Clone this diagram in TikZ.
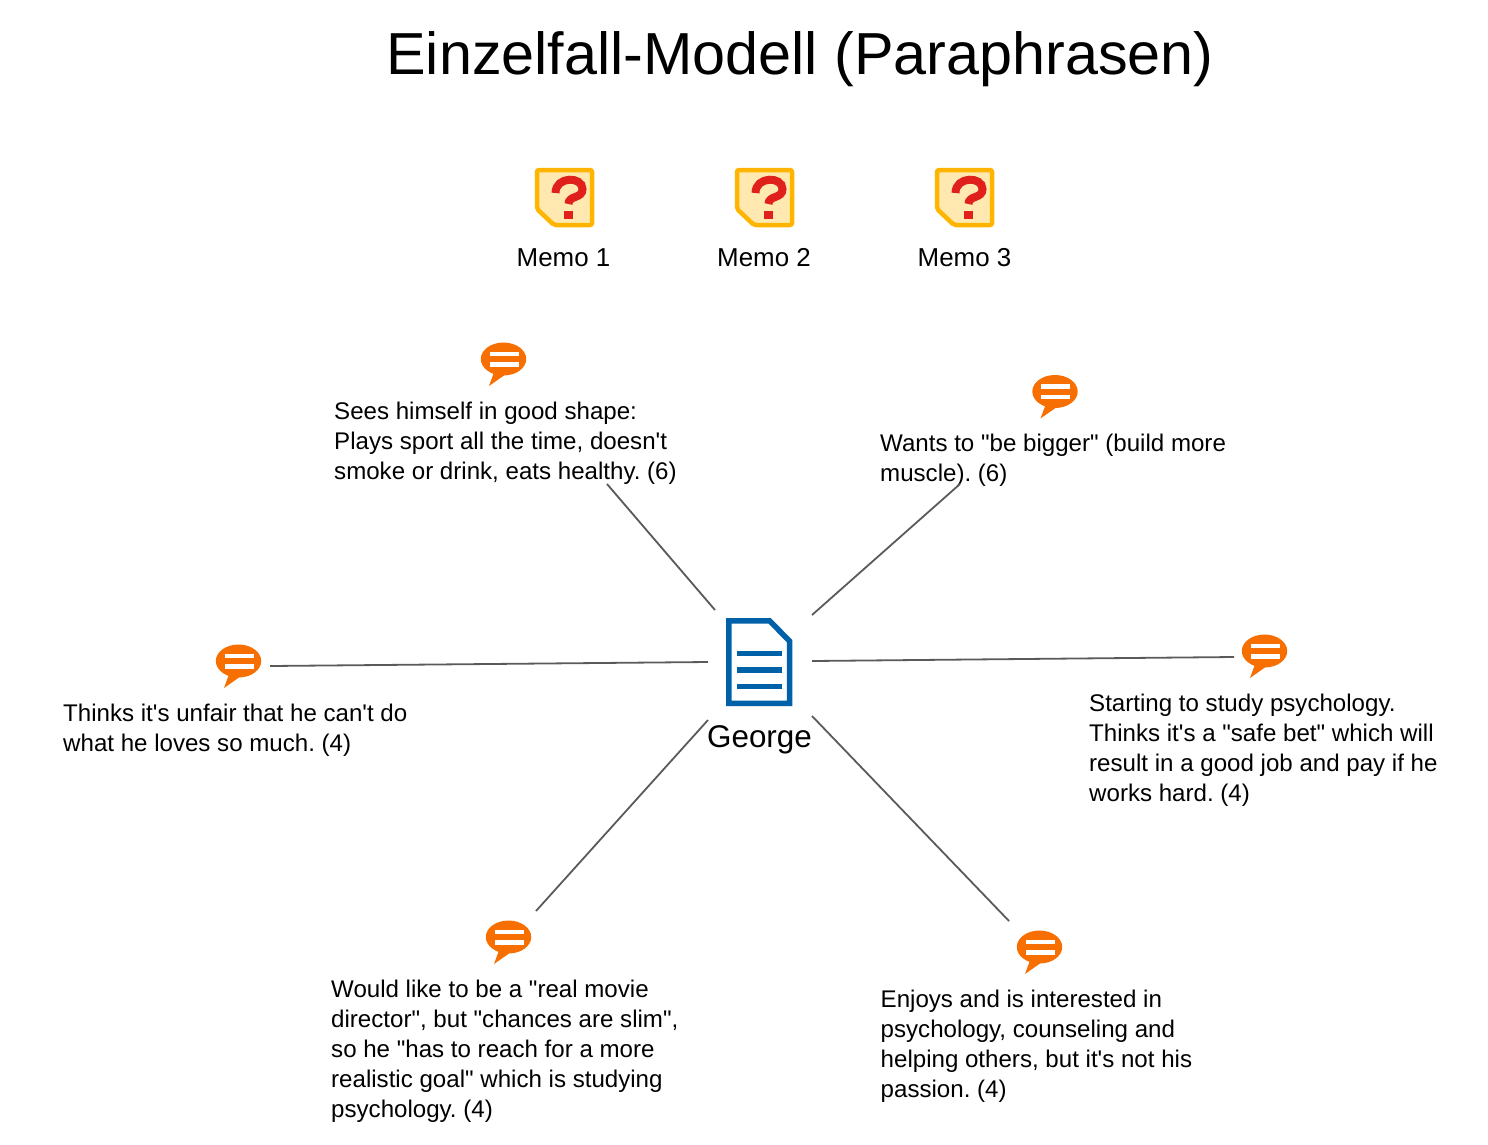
\documentclass[tikz,border=0pt]{standalone}
\usepackage{fontspec}
\setmainfont{Liberation Sans}
\newfontfamily\plainsans{Liberation Sans}
\definecolor{memoedge}{HTML}{FFB400}
\definecolor{memofill}{HTML}{FFE9B0}
\definecolor{memored}{HTML}{E0201A}
\definecolor{docblue}{HTML}{0061A8}
\definecolor{bubble}{HTML}{F76F00}
\definecolor{wire}{HTML}{5A5A5A}
\tikzset{
  wirelink/.style={draw=wire,line width=1.8pt},
  bodytext/.style={anchor=north west,inner sep=0pt,align=left,font=\plainsans\frenchspacing\fontsize{24.1}{30}\selectfont},
  memolabel/.style={inner sep=0pt,font=\plainsans\fontsize{25.9}{30}\selectfont},
  memoicon/.pic={
    \draw[memoedge,fill=memofill,line width=4.5pt,line join=round,rounded corners=2pt]
      (2,2) -- (57,2) -- (57,57) -- (19,57) -- (2,41) -- cycle;
    \draw[memored,line width=8pt,line cap=butt]
      (20.5,25) .. controls (20.5,8) and (47.5,8) .. (47.5,21)
      .. controls (47.5,31) and (33.5,27) .. (33.5,36);
    \fill[memored] (29.3,43) rectangle (38,51);
  },
  speechicon/.pic={
    \fill[bubble] (0,0) ellipse[x radius=22.7,y radius=16.5];
    \fill[bubble] (-9,12) -- (-14.5,27) -- (4,14) -- cycle;
    \fill[white] (-14,-7.3) rectangle (15,-3);
    \fill[white] (-14,3) rectangle (15,7.7);
  },
  docicon/.pic={
    \draw[docblue,line width=5.5pt,miter limit=10]
      (2.75,2.75) -- (43.5,2.75) -- (63.5,23) -- (63.5,85.3) -- (2.75,85.3) -- cycle;
    \fill[docblue] (11,32.5) rectangle (56,37.8);
    \fill[docblue] (11,49.3) rectangle (56,54.6);
    \fill[docblue] (11,66) rectangle (56,71.3);
  }
}
\begin{document}
\begin{tikzpicture}[x=1pt,y=-1pt]
\useasboundingbox (0,0) rectangle (1488,1144);
\node[inner sep=0pt,font=\plainsans\fontsize{59.3}{66}\selectfont] (title) at (800,59.5) {Einzelfall-Modell (Paraphrasen)};

\pic at (535,168) {memoicon};
\pic at (735,168) {memoicon};
\pic at (935,168) {memoicon};
\node[memolabel] (memoA) at (563.5,257.5) {Memo 1};
\node[memolabel] (memoB) at (764,257.5) {Memo 2};
\node[memolabel] (memoC) at (964.5,257.5) {Memo 3};

\pic at (726,618) {docicon};
\node[inner sep=0pt,font=\plainsans\fontsize{31.4}{36}\selectfont] (george) at (759.5,740) {George};

\pic at (503.5,359) {speechicon};
\pic at (1055,391.5) {speechicon};
\pic at (238.5,661) {speechicon};
\pic at (1264.5,651) {speechicon};
\pic at (508.5,937) {speechicon};
\pic at (1039.5,947) {speechicon};

\node[bodytext] (shape) at (334,402) {Sees himself in good shape:\\Plays sport all the time, doesn't\\smoke or drink, eats healthy. (6)};
\node[bodytext] (bigger) at (880,434) {Wants to "be bigger" (build more\\muscle). (6)};
\node[bodytext] (unfair) at (63,704) {Thinks it's unfair that he can't do\\what he loves so much. (4)};
\node[bodytext] (study) at (1089,694) {Starting to study psychology.\\Thinks it's a "safe bet" which will\\result in a good job and pay if he\\works hard. (4)};
\node[bodytext] (movie) at (331,980) {Would like to be a "real movie\\director", but "chances are slim",\\so he "has to reach for a more\\realistic goal" which is studying\\psychology. (4)};
\node[bodytext] (enjoys) at (880.5,990) {Enjoys and is interested in\\psychology, counseling and\\helping others, but it's not his\\passion. (4)};

\coordinate (hubA) at (715,610);
\coordinate (hubB) at (812,615);
\coordinate (hubC) at (708,662);
\coordinate (hubD) at (812,661);
\coordinate (hubE) at (708,720);
\coordinate (hubF) at (812,716);
\coordinate (endA) at (607,484);
\coordinate (endB) at (960,484);
\coordinate (endC) at (270,666);
\coordinate (endD) at (1234,657);
\coordinate (endE) at (536,911);
\coordinate (endF) at (1009,921);
\draw[wirelink] (hubA) -- (endA);
\draw[wirelink] (hubB) -- (endB);
\draw[wirelink] (hubC) -- (endC);
\draw[wirelink] (hubD) -- (endD);
\draw[wirelink] (hubE) -- (endE);
\draw[wirelink] (hubF) -- (endF);
\end{tikzpicture}
\end{document}
